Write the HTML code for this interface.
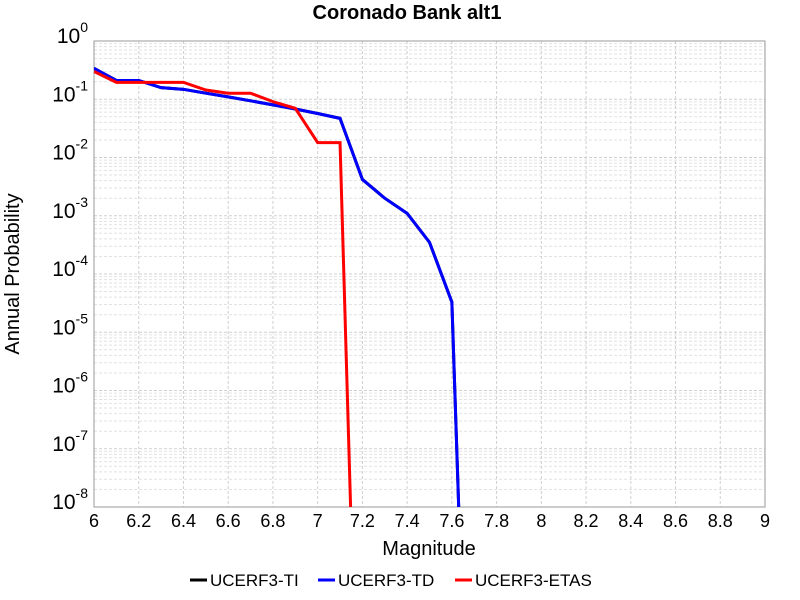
<!DOCTYPE html>
<html><head><meta charset="utf-8"><style>
html,body{margin:0;padding:0;overflow:hidden;background:#fff;font-family:"Liberation Sans",sans-serif}
svg{display:block}
</style></head><body>
<svg id="c" width="800" height="600" xmlns="http://www.w3.org/2000/svg" font-family="Liberation Sans, sans-serif">
<rect width="800" height="600" fill="#fff"/>
<text x="407" y="19" text-anchor="middle" font-size="20" font-weight="bold">Coronado Bank alt1</text>
<g id="grid"></g>
<g id="axes"></g>
<g id="series"></g>
<text x="429" y="555" text-anchor="middle" font-size="20">Magnitude</text>
<text transform="translate(19,274) rotate(-90)" text-anchor="middle" font-size="20">Annual Probability</text>
<g id="legend"></g>
</svg>
<script>
const magnitudes=[6.0,6.1,6.2,6.3,6.4,6.5,6.6,6.7,6.8,6.9,7.0,7.1,7.2,7.3,7.4,7.5,7.6,7.7];
const tiValues=[0.34,0.21,0.21,0.158,0.148,0.127,0.11,0.094,0.08,0.068,0.057,0.047,0.0042,0.002,0.0011,0.00035,0.000033,1e-16];
const tdValues=[0.34,0.21,0.21,0.158,0.148,0.127,0.11,0.094,0.08,0.068,0.057,0.047,0.0042,0.002,0.0011,0.00035,0.000033,1e-16];
const etasMags=[6.0,6.1,6.2,6.3,6.4,6.5,6.6,6.7,6.8,6.9,7.0,7.1,7.2];
const etasValues=[0.30,0.195,0.195,0.195,0.195,0.144,0.127,0.127,0.091,0.07,0.018,0.018,1e-15];
const xTicks=[6,6.2,6.4,6.6,6.8,7,7.2,7.4,7.6,7.8,8,8.2,8.4,8.6,8.8,9];
const yExps=[0,-1,-2,-3,-4,-5,-6,-7,-8];
const seriesNames=["UCERF3-TI","UCERF3-TD","UCERF3-ETAS"];
const L=94,R=765,T=41,B=507;
const X=m=>L+(m-6)/3*(R-L);
const Y=v=>T+(-Math.log10(v))/8*(B-T);
const NS="http://www.w3.org/2000/svg";
function mk(tag,attrs,parent){const e=document.createElementNS(NS,tag);for(const k in attrs)e.setAttribute(k,attrs[k]);parent.appendChild(e);return e;}
const grid=document.getElementById('grid'),axes=document.getElementById('axes'),ser=document.getElementById('series'),leg=document.getElementById('legend');
for(let d=0;d<8;d++){for(let k=2;k<=9;k++){const y=Y(k*Math.pow(10,-d-1));
const g=mk('line',{x1:L,x2:R,y1:y,y2:y,stroke:'#e2e2e2','stroke-width':1,'stroke-dasharray':'3,2'},grid);

}}
yExps.forEach(e=>{const y=Y(Math.pow(10,e));
const g=mk('line',{x1:L,x2:R,y1:y,y2:y,stroke:'#d0d0d0','stroke-width':1,'stroke-dasharray':'3,2'},grid);


const t=mk('text',{x:L-6,y:y+2,'text-anchor':'end','font-size':21},axes);


t.textContent='10';
const s=mk('tspan',{dy:-11,'font-size':14},t);s.textContent=String(e);});
xTicks.forEach(m=>{const x=X(m);
const g=mk('line',{x1:x,x2:x,y1:T,y2:B,stroke:'#d0d0d0','stroke-width':1,'stroke-dasharray':'3,2'},grid);


const t=mk('text',{x:x,y:B+20,'text-anchor':'middle','font-size':18},axes);


t.textContent=String(m);});
const fr=mk('rect',{x:L,y:T,width:R-L,height:B-T,fill:'none',stroke:'#999','stroke-width':1},axes);


const cp=mk('clipPath',{id:'clp'},ser);
mk('rect',{x:L,y:T,width:R-L,height:B-T},cp);
function line(xs,vs,color,name){const p=mk('polyline',{points:xs.map((m,i)=>X(m)+','+Y(vs[i])).join(' '),fill:'none',stroke:color,'stroke-width':3,'clip-path':'url(#clp)'},ser);

}
line(magnitudes,tiValues,'#000','series-ucerf3-ti');
line(magnitudes,tdValues,'#0000ff','series-ucerf3-td');
line(etasMags,etasValues,'#ff0000','series-ucerf3-etas');
const colors=['#000','#0000ff','#ff0000'];const lx=[190,318,455];
seriesNames.forEach((n,i)=>{const g=mk('g',{},leg);


mk('line',{x1:lx[i],x2:lx[i]+17,y1:580,y2:580,stroke:colors[i],'stroke-width':3},g);
const t=mk('text',{x:lx[i]+20,y:586,'font-size':17},g);t.textContent=n;});
</script>
</body></html>
